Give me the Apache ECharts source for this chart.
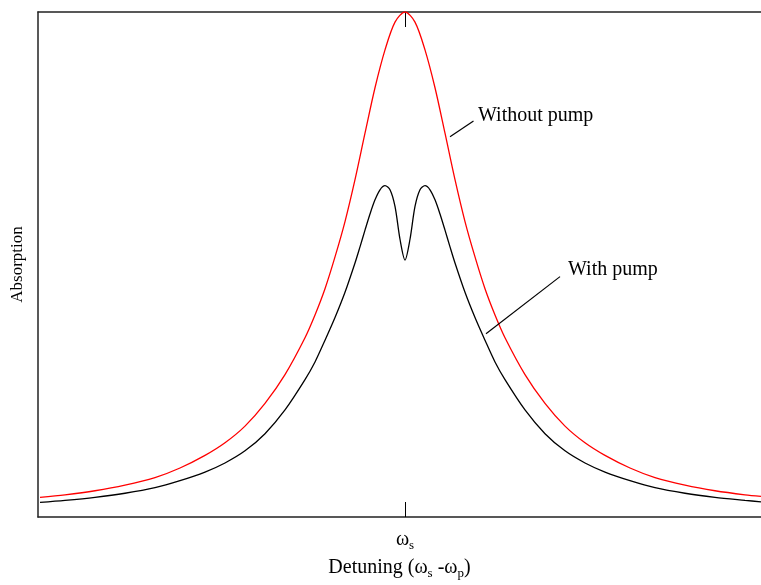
<!DOCTYPE html>
<html>
<head>
<meta charset="utf-8">
<script src="https://cdn.jsdelivr.net/npm/echarts@6/dist/echarts.min.js"></script>
<style>
  html, body { margin: 0; padding: 0; background: #fff; }
  #chart { width: 761px; height: 585px; }
</style>
</head>
<body>
<div id="chart"></div>
<script>
// detuning in arbitrary units (0 = ωs), absorption normalised to the unpumped peak
const redX = [-36.5, -34, -31, -28, -25, -22.5, -20, -18, -16, -14, -12, -10, -9, -8, -7, -6, -5, -4, -3, -2, -1, 0,
  1, 2, 3, 4, 5, 6, 7, 8, 9, 10, 12, 14, 16, 18, 20, 22.5, 25, 28, 31, 34, 35.6];
const redY = [0.039, 0.044, 0.052, 0.063, 0.078, 0.097, 0.122, 0.147, 0.180, 0.225, 0.282, 0.355, 0.400, 0.452, 0.515,
  0.585, 0.668, 0.760, 0.850, 0.925, 0.980, 1.0,
  0.980, 0.925, 0.850, 0.760, 0.668, 0.585, 0.515, 0.452, 0.400, 0.355, 0.282, 0.225, 0.180, 0.147, 0.122, 0.097,
  0.078, 0.063, 0.052, 0.044, 0.041];

const blackX = [-36.5, -34, -31, -28, -25, -22.5, -20, -18, -16, -14, -12, -10, -9, -8, -7, -6, -5, -4.5, -4, -3.5,
  -3, -2.5, -2, -1.5, -1, -0.5, 0, 0.5, 1, 1.5, 2, 2.5, 3, 3.5, 4, 4.5, 5, 6, 7, 8, 9, 10, 12, 14, 16, 18, 20, 22.5,
  25, 28, 31, 34, 35.6];
const blackY = [0.029, 0.033, 0.039, 0.047, 0.058, 0.072, 0.089, 0.107, 0.131, 0.165, 0.212, 0.272, 0.307, 0.350,
  0.395, 0.445, 0.503, 0.535, 0.568, 0.600, 0.628, 0.648, 0.656, 0.648, 0.615, 0.550, 0.509, 0.550, 0.615, 0.648,
  0.656, 0.648, 0.628, 0.600, 0.568, 0.535, 0.503, 0.445, 0.395, 0.350, 0.307, 0.272, 0.212, 0.165, 0.131, 0.107,
  0.089, 0.072, 0.058, 0.047, 0.039, 0.033, 0.030];

// annotation text and leader lines (data units)
const labelNames = ['Without pump', 'With pump'];
const labelAt = [[7.3, 0.794], [16.3, 0.489]];
const leaderLines = [[[4.5, 0.753], [6.85, 0.784]], [[8.1, 0.363], [15.5, 0.476]]];

const font = 'Liberation Serif, Times New Roman, serif';
const pair = (xs, ys) => xs.map((x, i) => [x, ys[i]]);

const chart = echarts.init(document.getElementById('chart'));

chart.setOption({
  animation: false,
  backgroundColor: '#fff',
  textStyle: { fontFamily: font, color: '#000' },
  grid: { left: 38, right: 0, top: 12, bottom: 58 },
  xAxis: [
    {
      type: 'value',
      min: -36.7,
      max: 35.6,
      position: 'bottom',
      splitLine: { show: false },
      axisLine: { onZero: false, lineStyle: { color: '#222', width: 1.5 } },
      axisTick: { inside: true, length: 15, customValues: [0], lineStyle: { color: '#000' } },
      axisLabel: {
        customValues: [0],
        margin: 10,
        formatter: () => '{a|ω}{s|s}',
        rich: {
          a: { fontFamily: font, fontSize: 20, color: '#000' },
          s: { fontFamily: font, fontSize: 13, color: '#000', padding: [12, 0, 0, 0] }
        }
      },
      name: '{a|Detuning (ω}{s|s}{a| -ω}{s|p}{a|)}',
      nameLocation: 'middle',
      nameGap: 38,
      nameTextStyle: {
        rich: {
          a: { fontFamily: font, fontSize: 20, color: '#000' },
          s: { fontFamily: font, fontSize: 13, color: '#000', padding: [12, 0, 0, 0] }
        }
      }
    },
    {
      type: 'value',
      min: -36.7,
      max: 35.6,
      position: 'top',
      splitLine: { show: false },
      axisLine: { onZero: false, lineStyle: { color: '#222', width: 1.5 } },
      axisTick: { inside: true, length: 15, customValues: [0], lineStyle: { color: '#000' } },
      axisLabel: { show: false }
    }
  ],
  yAxis: {
    type: 'value',
    min: 0,
    max: 1,
    splitLine: { show: false },
    axisLine: { show: true, onZero: false, lineStyle: { color: '#222', width: 1.5 } },
    axisTick: { show: false },
    axisLabel: { show: false },
    name: 'Absorption',
    nameLocation: 'middle',
    nameRotate: 90,
    nameGap: 12,
    nameTextStyle: { fontFamily: font, fontSize: 17, color: '#000' }
  },
  series: [
    {
      name: 'Without pump',
      type: 'line',
      data: pair(redX, redY),
      smooth: 0.3,
      showSymbol: false,
      lineStyle: { color: '#ff0000', width: 1.3 },
      markLine: {
        silent: true,
        symbol: 'none',
        lineStyle: { color: '#000', width: 1.2, type: 'solid' },
        label: { show: false },
        data: leaderLines.map(l => [{ coord: l[0] }, { coord: l[1] }])
      },
      markPoint: {
        silent: true,
        symbolSize: 0,
        data: labelAt.map((c, i) => ({
          coord: c,
          label: {
            show: true,
            position: 'right',
            distance: 0,
            formatter: labelNames[i],
            fontFamily: font,
            fontSize: 20,
            color: '#000'
          }
        }))
      }
    },
    {
      name: 'With pump',
      type: 'line',
      data: pair(blackX, blackY),
      smooth: 0.3,
      showSymbol: false,
      lineStyle: { color: '#000', width: 1.3 }
    }
  ]
});
</script>
</body>
</html>
